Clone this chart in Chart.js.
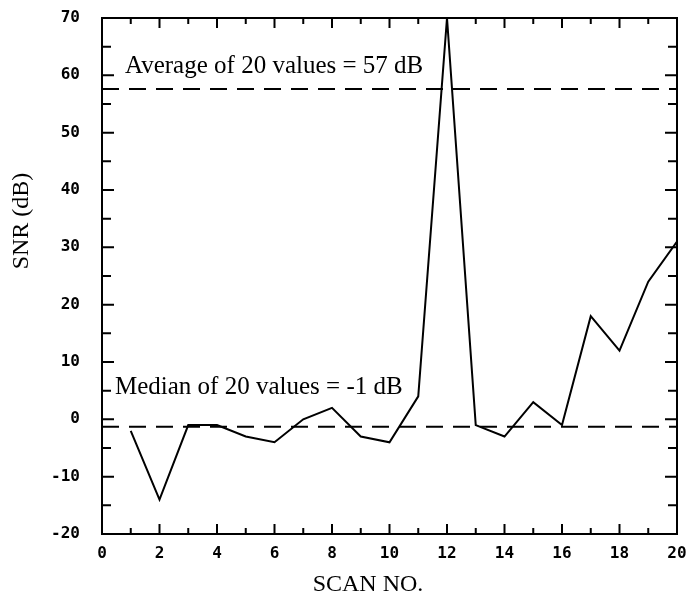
<!DOCTYPE html>
<html>
<head>
<meta charset="utf-8">
<script src="https://cdn.jsdelivr.net/npm/chart.js@4"></script>
<style>
  html, body { margin: 0; padding: 0; background: #fff; }
  #wrap { width: 687px; height: 604px; }
</style>
</head>
<body>
<div id="wrap"><canvas id="snrChart" width="687" height="604"></canvas></div>
<script>
// --- Data ---
const scanNo = [1, 2, 3, 4, 5, 6, 7, 8, 9, 10, 11, 12, 13, 14, 15, 16, 17, 18, 19, 20];
const snrValues = [-2, -14, -1, -1, -3, -4, 0, 2, -3, -4, 4, 70, -1, -3, 3, -1, 18, 12, 24, 31];
const averageLevel = 57.6;
const medianLevel = -1.3;
const xRange = [0, 20];
const yRange = [-20, 70];
const averageLabel = 'Average of 20 values = 57 dB';
const medianLabel = 'Median of 20 values = -1 dB';
const xTitle = 'SCAN NO.';
const yTitle = 'SNR (dB)';

const serif = '"Liberation Serif", "DejaVu Serif", serif';
const tickFont = { family: '"DejaVu Sans Mono", monospace', size: 16, weight: 'bold' };

const series = scanNo.map((s, i) => ({ x: s, y: snrValues[i] }));
const flatLine = (v) => [{ x: xRange[0], y: v }, { x: xRange[1], y: v }];

// Inward tick marks on all four sides, plus titles and the two notes
const decorations = {
    id: 'decorations',
    afterDraw(chart) {
        const ctx = chart.ctx;
        const { left, right, top, bottom } = chart.chartArea;
        const xs = chart.scales.x;
        const ys = chart.scales.y;
        ctx.save();
        ctx.strokeStyle = '#000';
        ctx.lineWidth = 2;
        ctx.beginPath();
        for (let v = xRange[0] + 1; v < xRange[1]; v++) {
            const px = xs.getPixelForValue(v);
            const len = v % 2 === 0 ? 10 : 6;
            ctx.moveTo(px, bottom); ctx.lineTo(px, bottom - len);
            ctx.moveTo(px, top); ctx.lineTo(px, top + len);
        }
        for (let v = yRange[0] + 5; v < yRange[1]; v += 5) {
            const py = ys.getPixelForValue(v);
            const len = v % 10 === 0 ? 12 : 9;
            ctx.moveTo(left, py); ctx.lineTo(left + len, py);
            ctx.moveTo(right, py); ctx.lineTo(right - len, py);
        }
        ctx.stroke();
        ctx.strokeRect(left, top, right - left, bottom - top);

        ctx.fillStyle = '#000';
        ctx.font = '25px ' + serif;
        ctx.textAlign = 'left';
        ctx.textBaseline = 'alphabetic';
        ctx.fillText(averageLabel, left + 23, top + 55);
        ctx.fillText(medianLabel, left + 13, ys.getPixelForValue(0) - 25);

        ctx.font = '24px ' + serif;
        ctx.textAlign = 'center';
        ctx.textBaseline = 'middle';
        ctx.fillText(xTitle, 368, 585);
        ctx.translate(22, 221);
        ctx.rotate(-Math.PI / 2);
        ctx.fillText(yTitle, 0, 0);
        ctx.restore();
    }
};

const ctx = document.getElementById('snrChart').getContext('2d');
new Chart(ctx, {
    type: 'line',
    data: {
        datasets: [
            {
                label: 'SNR',
                data: series,
                borderColor: '#000',
                borderWidth: 2,
                pointRadius: 0,
                tension: 0
            },
            {
                label: 'Average',
                data: flatLine(averageLevel),
                borderColor: '#000',
                borderWidth: 2,
                borderDash: [17, 10],
                pointRadius: 0
            },
            {
                label: 'Median',
                data: flatLine(medianLevel),
                borderColor: '#000',
                borderWidth: 2,
                borderDash: [17, 10],
                pointRadius: 0
            }
        ]
    },
    options: {
        responsive: false,
        animation: false,
        layout: { padding: { top: 18, right: 10, left: 0, bottom: 0 } },
        plugins: { legend: { display: false }, tooltip: { enabled: false } },
        scales: {
            x: {
                type: 'linear',
                min: xRange[0],
                max: xRange[1],
                grid: { display: false, drawTicks: false },
                border: { display: false },
                ticks: { stepSize: 2, color: '#000', font: tickFont, padding: 10, maxRotation: 0 },
                afterFit: (scale) => {
                    scale.height = 70;
                    scale.paddingLeft = 0;
                    scale.paddingRight = 0;
                }
            },
            y: {
                min: yRange[0],
                max: yRange[1],
                grid: { display: false, drawTicks: false },
                border: { display: false },
                ticks: { stepSize: 10, color: '#000', font: tickFont, padding: 22 },
                afterFit: (scale) => {
                    scale.width = 102;
                    scale.paddingTop = 0;
                    scale.paddingBottom = 0;
                }
            }
        }
    },
    plugins: [decorations]
});
</script>
</body>
</html>
